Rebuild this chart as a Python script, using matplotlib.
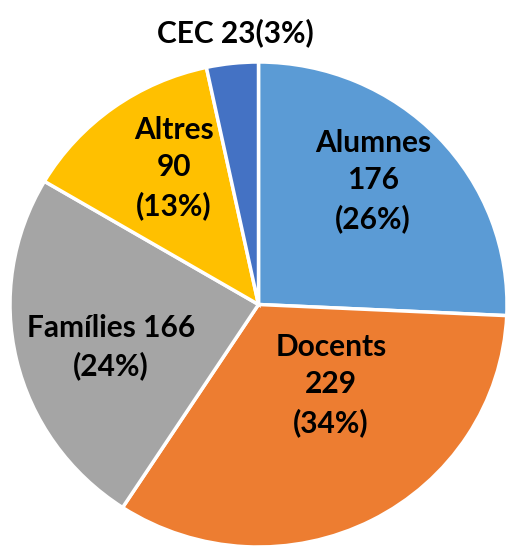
import matplotlib
matplotlib.use("Agg")
import matplotlib.pyplot as plt

# data (clockwise from 12 o'clock)
categories = ['Alumnes', 'Docents', 'Famílies', 'Altres', 'CEC']
values = [176, 229, 166, 90, 23]
percents = [26, 34, 24, 13, 3]   # as printed on the chart
colors = ['#5B9BD5', '#ED7D31', '#A5A5A5', '#FFC000', '#4472C4']

plt.rcParams['font.family'] = ['Lato', 'DejaVu Sans']

W, H = 507, 550
fig = plt.figure(figsize=(W / 100, H / 100), dpi=100)

# pie box in pixels (slightly wider than tall, like the original)
cx, cy, rx, ry = 258.5, 304.5, 248.5, 242.5
ax = fig.add_axes([(cx - rx) / W, (H - cy - ry) / H, 2 * rx / W, 2 * ry / H])
ax.pie(values, colors=colors, startangle=90, counterclock=False,
       wedgeprops=dict(edgecolor='white', linewidth=2.5))
ax.set_aspect('auto')
ax.set_xlim(-1, 1)
ax.set_ylim(-1, 1)
ax.axis('off')

# overlay for labels, pixel coords from top-left
tx = fig.add_axes([0, 0, 1, 1])
tx.set_xlim(0, W)
tx.set_ylim(H, 0)
tx.axis('off')

kw = dict(ha='center', va='center', fontsize=21.5, fontweight='bold',
          color='black', linespacing=1.4)

tx.text(373, 181, f"{categories[0]}\n{values[0]}\n({percents[0]}%)", **kw)
tx.text(331, 385, f"{categories[1]}\n{values[1]}\n({percents[1]}%)", **kw)
tx.text(111, 347, f"{categories[2]} {values[2]}\n({percents[2]}%)", **kw)
tx.text(174, 168, f"{categories[3]}\n{values[3]}\n({percents[3]}%)", **kw)
tx.text(235, 33, f"{categories[4]} {values[4]}({percents[4]}%)", **kw)

fig.savefig('out.png', dpi=100)
